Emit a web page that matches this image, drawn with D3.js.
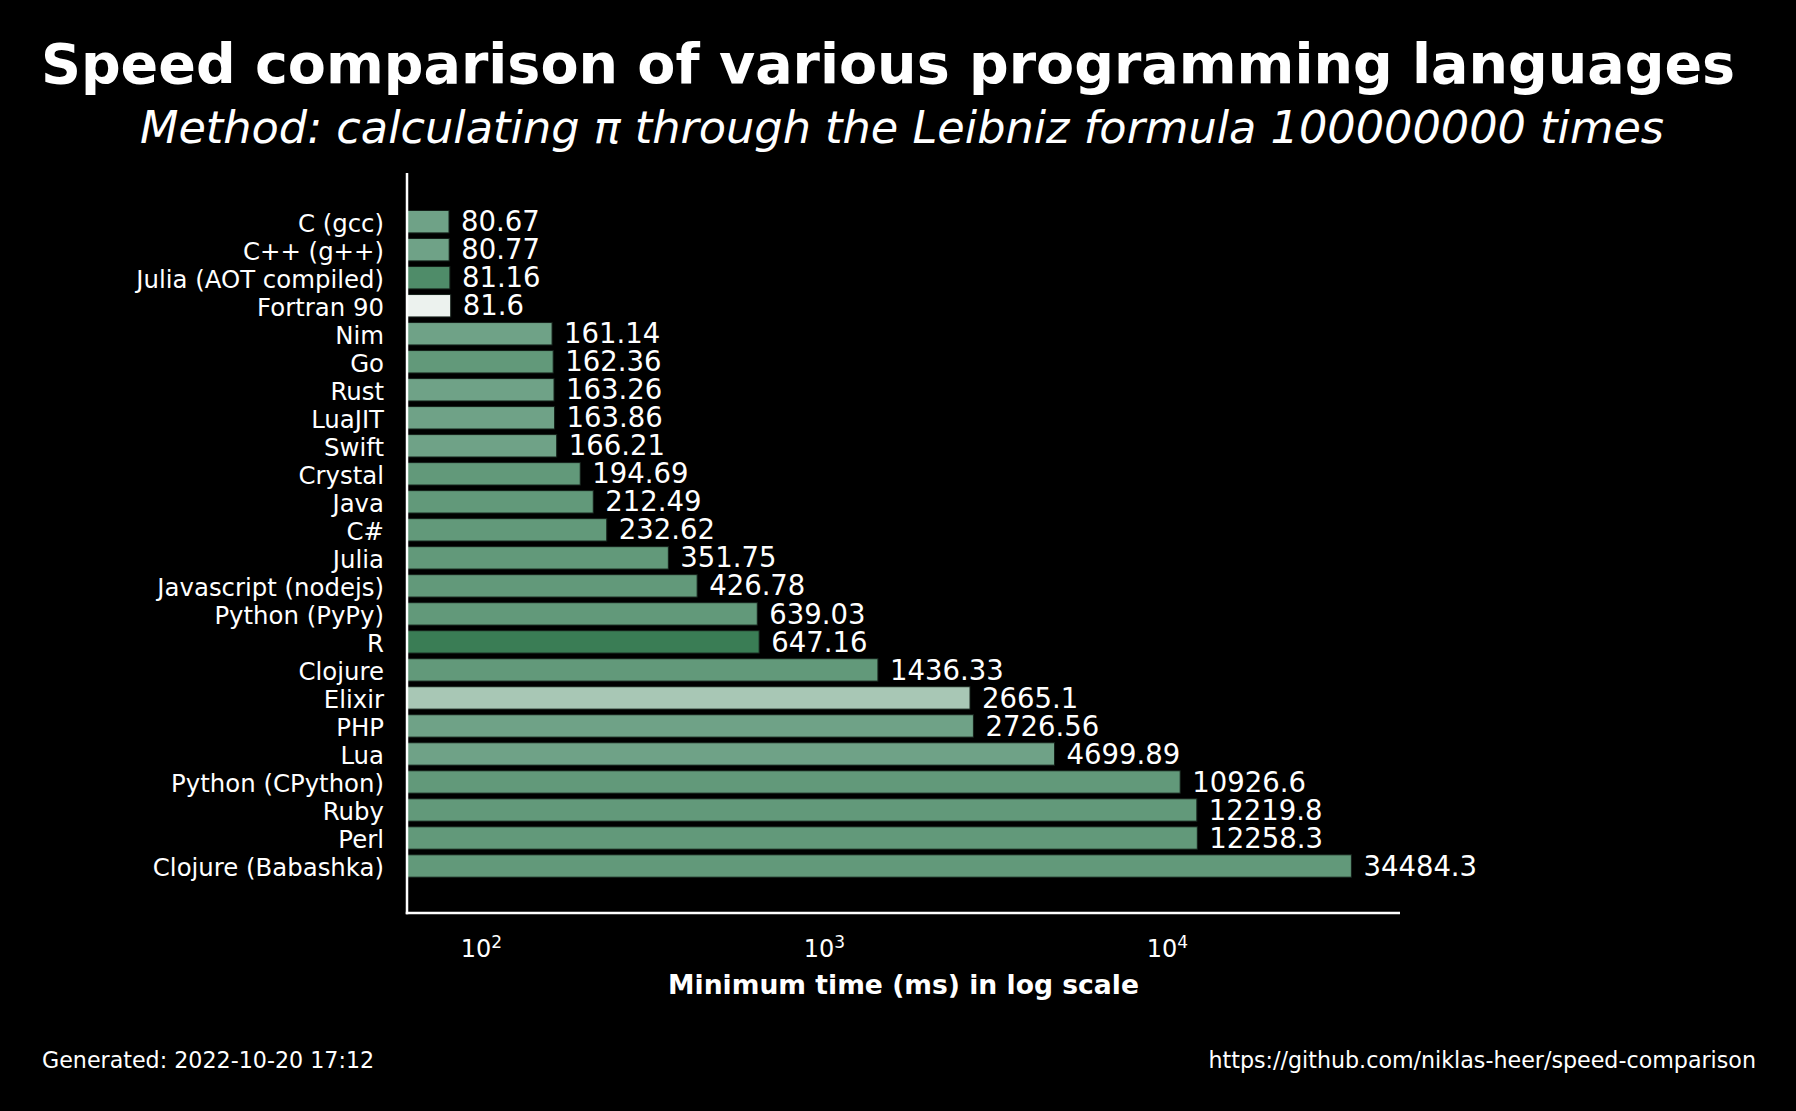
<!DOCTYPE html>
<html>
<head>
<meta charset="utf-8">
<script src="https://cdn.jsdelivr.net/npm/d3@7/dist/d3.min.js"></script>
<style>
  html, body { margin: 0; padding: 0; background: #000; }
  svg { display: block; }
  text { font-family: "DejaVu Sans", sans-serif; fill: #ffffff; }
</style>
</head>
<body>
<script>
const languages = ["C (gcc)", "C++ (g++)", "Julia (AOT compiled)", "Fortran 90", "Nim", "Go", "Rust", "LuaJIT", "Swift", "Crystal", "Java", "C#", "Julia", "Javascript (nodejs)", "Python (PyPy)", "R", "Clojure", "Elixir", "PHP", "Lua", "Python (CPython)", "Ruby", "Perl", "Clojure (Babashka)"];
const timesMs = [80.67, 80.77, 81.16, 81.6, 161.14, 162.36, 163.26, 163.86, 166.21, 194.69, 212.49, 232.62, 351.75, 426.78, 639.03, 647.16, 1436.33, 2665.1, 2726.56, 4699.89, 10926.6, 12219.8, 12258.3, 34484.3];
const valueLabels = ["80.67", "80.77", "81.16", "81.6", "161.14", "162.36", "163.26", "163.86", "166.21", "194.69", "212.49", "232.62", "351.75", "426.78", "639.03", "647.16", "1436.33", "2665.1", "2726.56", "4699.89", "10926.6", "12219.8", "12258.3", "34484.3"];
const barColors = ["#6fa287", "#6fa287", "#4f8c69", "#ecf2ee", "#6fa287", "#62997a", "#6fa287", "#6fa287", "#6fa287", "#62997a", "#62997a", "#62997a", "#62997a", "#62997a", "#62997a", "#3a7d55", "#62997a", "#a8c7b5", "#6fa287", "#6fa287", "#62997a", "#62997a", "#62997a", "#62997a"];
const tickExponents = [2, 3, 4];
const titleText = "Speed comparison of various programming languages";
const subtitleText = "Method: calculating π through the Leibniz formula 100000000 times";
const xLabelText = "Minimum time (ms) in log scale";
const footerLeft = "Generated: 2022-10-20 17:12";
const footerRight = "https://github.com/niklas-heer/speed-comparison";

const W = 1796, H = 1111;
const plot = { left: 407, right: 1400, top: 173, bottom: 913 };

const svg = d3.select("body").append("svg").attr("width", W).attr("height", H);
svg.append("rect").attr("width", W).attr("height", H).attr("fill", "#000");

const x = d3.scaleLog().domain([60.85, 47790]).range([plot.left, plot.right]);
const y = d3.scaleBand().domain(languages).range([207.7, 880]).paddingInner(0.2).paddingOuter(0.1);
const color = d3.scaleOrdinal(languages, barColors);

// bars
svg.append("g").selectAll("rect").data(languages).join("rect")
  .attr("x", plot.left)
  .attr("y", d => y(d))
  .attr("width", (d, i) => x(timesMs[i]) - plot.left)
  .attr("height", y.bandwidth())
  .attr("fill", d => color(d))
  .attr("stroke", "#15201a")
  .attr("stroke-width", 1);

// value labels
svg.append("g").selectAll("text").data(languages).join("text")
  .attr("x", (d, i) => x(timesMs[i]) + 12)
  .attr("y", d => y(d) + y.bandwidth() / 2)
  .attr("dy", "0.35em")
  .attr("font-size", 27.5)
  .text((d, i) => valueLabels[i]);

// y axis labels
const yAxis = d3.axisLeft(y).tickSize(0).tickPadding(23);
const gy = svg.append("g").attr("transform", `translate(${plot.left},0)`).call(yAxis);
gy.select(".domain").remove();
gy.selectAll("text")
  .attr("font-size", 24.4)
  .attr("fill", "#fff")
  .attr("font-family", "DejaVu Sans")
  .attr("dy", "0.42em");

// x axis
const xAxis = d3.axisBottom(x).tickValues(tickExponents.map(e => Math.pow(10, e))).tickSize(0).tickPadding(27).tickFormat(() => "");
const gx = svg.append("g").attr("transform", `translate(0,${plot.bottom})`).call(xAxis);
gx.select(".domain").remove();
gx.selectAll(".tick text").each(function(d, i) {
  const t = d3.select(this);
  t.text(null).attr("font-size", 24).attr("fill", "#fff").attr("font-family", "DejaVu Sans").attr("dy", "0.71em");
  t.append("tspan").text("10");
  t.append("tspan").attr("font-size", 17).attr("dy", "-0.55em").text(String(tickExponents[i]));
});

// spines
svg.append("line").attr("x1", plot.left).attr("x2", plot.left).attr("y1", plot.top).attr("y2", plot.bottom + 1.25)
  .attr("stroke", "#fff").attr("stroke-width", 2.5);
svg.append("line").attr("x1", plot.left - 1.25).attr("x2", plot.right).attr("y1", plot.bottom).attr("y2", plot.bottom)
  .attr("stroke", "#fff").attr("stroke-width", 2.5);

// titles
svg.append("text").attr("x", 888).attr("y", 83).attr("text-anchor", "middle")
  .attr("font-size", 55.5).attr("font-weight", "bold").text(titleText);
svg.append("text").attr("x", 902).attr("y", 143).attr("text-anchor", "middle")
  .attr("font-size", 44.6).attr("font-style", "italic").text(subtitleText);

// x label
svg.append("text").attr("x", (plot.left + plot.right) / 2).attr("y", 994).attr("text-anchor", "middle")
  .attr("font-size", 26.6).attr("font-weight", "bold").text(xLabelText);

// footer
svg.append("text").attr("x", 42).attr("y", 1068).attr("font-size", 22.2).text(footerLeft);
svg.append("text").attr("x", 1756).attr("y", 1068).attr("text-anchor", "end").attr("font-size", 22.2).text(footerRight);
</script>
</body>
</html>
